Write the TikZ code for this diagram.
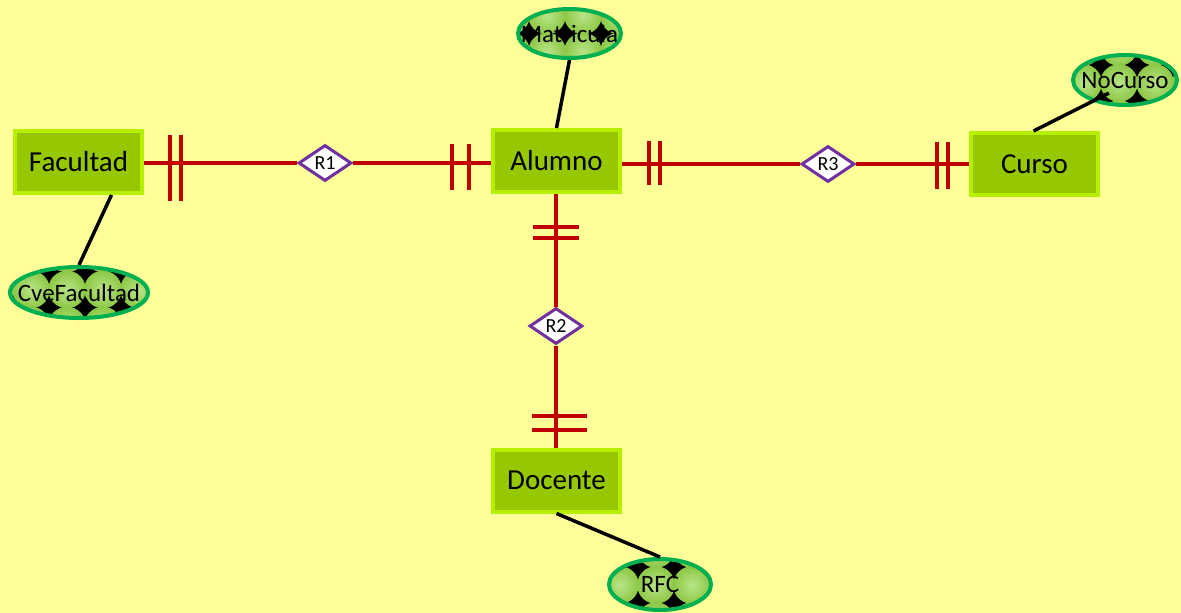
\documentclass[tikz,border=0pt]{standalone}
\usepackage{fontspec}
\setmainfont{Carlito}
\usetikzlibrary{shapes.geometric,calc}
\definecolor{bg}{RGB}{255,255,153}
\definecolor{entfill}{RGB}{150,200,0}
\definecolor{entborder}{RGB}{180,240,0}
\definecolor{relred}{RGB}{192,0,0}
\definecolor{relpurple}{RGB}{112,48,160}
\definecolor{attrborder}{RGB}{0,176,80}
\definecolor{circin}{RGB}{185,228,135}
\definecolor{circout}{RGB}{140,200,70}
\tikzset{
  ox/.store in=\ox, oy/.store in=\oy, ox=0, oy=0,
  entity/.style={rectangle, draw=entborder, fill=entfill, line width=4pt, inner sep=0pt,
    minimum width=127pt, minimum height=62pt, font=\fontsize{29}{29}\selectfont},
  rel/.style={diamond, draw=relpurple, fill=white, line width=3pt, inner sep=0pt,
    aspect=1.47, minimum width=53pt, minimum height=36pt, font=\fontsize{20}{20}\selectfont},
  attr/.style={ellipse, draw=attrborder, line width=4pt, inner sep=0pt,
    label={[font=\fontsize{25}{25}\selectfont, inner sep=0pt]center:#1},
    path picture={
      \fill[black] (path picture bounding box.south west) rectangle (path picture bounding box.north east);
      \foreach \i in {-3,...,3}{\foreach \j in {-2,...,2}{
        \shade[inner color=circin, outer color=circout]
          ($(path picture bounding box.center)+(\i*36+\ox,\j*36+\oy)$) circle (18.8pt);}}
    }},
  redline/.style={draw=relred, line width=4pt},
  tick/.style={draw=relred, line width=4pt},
  attrline/.style={draw=black, line width=3.5pt},
}
\begin{document}
\begin{tikzpicture}[x=1pt,y=-1pt]
\fill[bg] (0,0) rectangle (1181,613);
\useasboundingbox (0,0) rectangle (1181,613);

% entities
\node[entity] (fac) at (78.5,162) {Facultad};
\node[entity] (alu) at (556.5,161) {Alumno};
\node[entity] (cur) at (1034.5,164) {Curso};
\node[entity] (doc) at (556.5,480.5) {Docente};

% relationships
\node[rel] (r1) at (325,163) {R1};
\node[rel] (r3) at (828,164) {R3};
\node[rel] (r2) at (556,326) {R2};

% connectors
\draw[redline] (fac.east |- r1.west) -- (r1.west);
\draw[redline] (r1.east) -- (r1.east -| alu.west);
\draw[redline] (alu.east |- r3.west) -- (r3.west);
\draw[redline] (r3.east) -- (r3.east -| cur.west);
\draw[redline] (alu.south -| r2.north) -- (r2.north);
\draw[redline] (r2.south) -- (r2.south |- doc.north);

% cardinality ticks
\draw[tick] (170,135) -- (170,201) (181,135) -- (181,201);
\draw[tick] (452,144) -- (452,190) (469,144) -- (469,190);
\draw[tick] (649,141) -- (649,185) (660,141) -- (660,185);
\draw[tick] (937,142) -- (937,189) (948,142) -- (948,189);
\draw[tick] (533,227) -- (579,227) (533,238) -- (579,238);
\draw[tick] (532,416) -- (587,416) (532,430) -- (587,430);

% attributes
\node[attr=Matricula, minimum width=103pt, minimum height=49pt, ox=13.5, oy=18] (mat) at (569.5,33.5) {};
\node[attr=CveFacultad, minimum width=138pt, minimum height=51pt, ox=24, oy=-3] (cve) at (79,292.5) {};
\node[attr=NoCurso, minimum width=104pt, minimum height=50pt, ox=-6, oy=3] (noc) at (1125,80) {};
\node[attr=RFC, minimum width=102pt, minimum height=51pt, ox=-4, oy=0.5] (rfc) at (660,584.5) {};

\draw[attrline] (mat.south) -- (alu.north);
\draw[attrline] ($(fac.south)+(33,0)$) -- (cve.north);
\draw[attrline] ($(noc.south west)+(22,-6)$) -- ($(cur.north)+(-1,0)$);
\draw[attrline] (doc.south) -- (rfc.north);
\end{tikzpicture}
\end{document}
